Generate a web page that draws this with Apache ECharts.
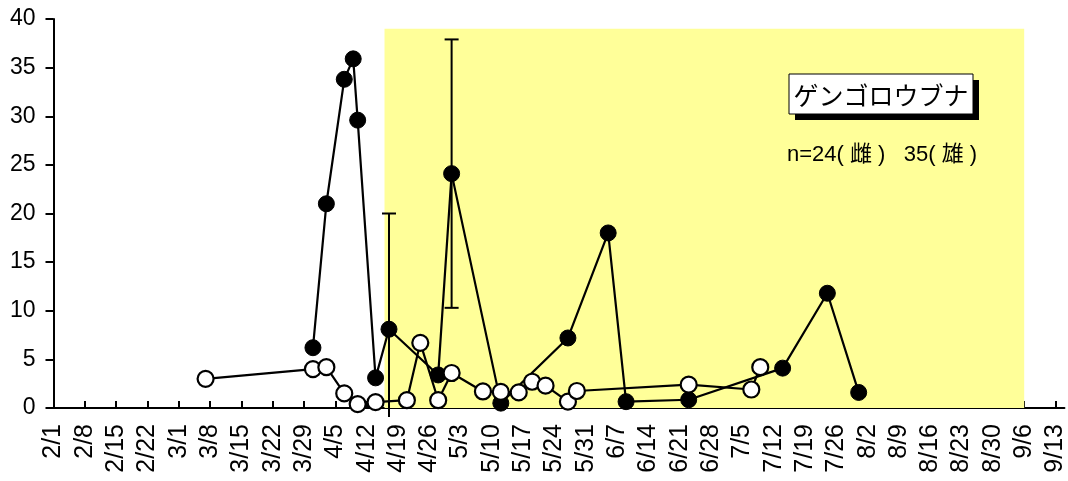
<!DOCTYPE html>
<html>
<head>
<meta charset="utf-8">
<script src="https://cdn.jsdelivr.net/npm/echarts@6/dist/echarts.min.js"></script>
<style>
  html, body { margin: 0; padding: 0; background: #ffffff; }
  #chart { width: 1068px; height: 481px; }
</style>
</head>
<body>
<div id="chart"></div>
<script>
// Weekly tick labels along the season axis (non-leap year, starting 2/1)
const weekLabels = ['2/1','2/8','2/15','2/22','3/1','3/8','3/15','3/22','3/29','4/5','4/12','4/19','4/26',
  '5/3','5/10','5/17','5/24','5/31','6/7','6/14','6/21','6/28','7/5','7/12','7/19','7/26',
  '8/2','8/9','8/16','8/23','8/30','9/6','9/13'];

// Filled-circle series
const filledDates  = ['3/31','4/3','4/7','4/9','4/10','4/14','4/17','4/28','5/1','5/12','5/27','6/5','6/9','6/23','7/14','7/24','7/31'];
const filledValues = [6.2, 21.0, 33.8, 35.9, 29.6, 3.1, 8.1, 3.4, 24.1, 0.5, 7.2, 18.0, 0.65, 0.85, 4.1, 11.8, 1.6];

// Open-circle series
const openDates  = ['3/7','3/31','4/3','4/7','4/10','4/14','4/21','4/24','4/28','5/1','5/8','5/12','5/16','5/19','5/22','5/27','5/29','6/23','7/7','7/9'];
const openValues = [3.0, 4.0, 4.2, 1.5, 0.4, 0.6, 0.8, 6.7, 0.8, 3.6, 1.7, 1.65, 1.6, 2.7, 2.3, 0.65, 1.75, 2.4, 1.9, 4.2];

// Error bars on the filled series
const errDates = ['4/17','5/1'];
const errLow   = [-3.8, 10.3];
const errHigh  = [20.0, 37.9];

// Shaded period
const shadeStart = '4/16';
const shadeEnd   = '9/6';
const shadeTop   = 39;

const titleText = 'ゲンゴロウブナ';
const noteText  = 'n=24( 雌 )   35( 雄 )';

// Day offsets from 2/1
const monthStart = {2: 0, 3: 28, 4: 59, 5: 89, 6: 120, 7: 150, 8: 181, 9: 212};
function dayOf(md) {
  const [m, d] = md.split('/').map(Number);
  return monthStart[m] + d - 1;
}
const weekTicks = weekLabels.map(dayOf);

const filledData = filledDates.map((d, i) => [dayOf(d), filledValues[i]]);
const openData = openDates.map((d, i) => [dayOf(d), openValues[i]]);
const errData = errDates.map((d, i) => [dayOf(d), errLow[i], errHigh[i]]);

const FONT = '"Liberation Sans", Arial, sans-serif';

const chart = echarts.init(document.getElementById('chart'), null, { renderer: 'canvas' });

chart.setOption({
  animation: false,
  backgroundColor: '#ffffff',
  grid: { left: 53.5, right: 3, top: 19, bottom: 73, containLabel: false },
  xAxis: {
    type: 'value',
    min: 0,
    max: 226,
    splitLine: { show: false },
    axisLine: { show: true, onZero: false, lineStyle: { color: '#000', width: 2 } },
    axisTick: { show: true, inside: true, length: 7, customValues: weekTicks, lineStyle: { color: '#000', width: 2 } },
    axisLabel: {
      show: true,
      customValues: weekTicks,
      rotate: 90,
      margin: 16,
      color: '#000',
      fontFamily: FONT,
      fontSize: 25,
      formatter: v => {
        const i = weekTicks.indexOf(Math.round(v));
        return i >= 0 ? weekLabels[i] : '';
      }
    }
  },
  yAxis: {
    type: 'value',
    min: 0,
    max: 40,
    interval: 5,
    splitLine: { show: false },
    axisLine: { show: true, lineStyle: { color: '#000', width: 2 } },
    axisTick: { show: true, inside: false, length: 8, lineStyle: { color: '#000', width: 2 } },
    axisLabel: { color: '#000', fontFamily: FONT, fontSize: 23, margin: 18 }
  },
  series: [
    {
      type: 'line',
      data: [],
      z: 0,
      silent: true,
      markArea: {
        silent: true,
        itemStyle: { color: '#FFFF99', borderWidth: 0 },
        data: [[{ xAxis: dayOf(shadeStart), yAxis: 0 }, { xAxis: dayOf(shadeEnd), yAxis: shadeTop }]]
      }
    },
    {
      type: 'custom',
      z: 3,
      clip: false,
      data: errData,
      renderItem: (params, api) => {
        const x = api.value(0);
        const pTop = api.coord([x, api.value(2)]);
        const pBot = api.coord([x, api.value(1)]);
        // the plot frame reaches a few pixels under the x axis; bars are cut there
        const limit = params.coordSys.y + params.coordSys.height + 9;
        let bottom = pBot[1];
        const cut = bottom > limit;
        if (cut) bottom = limit;
        const cx = pTop[0];
        const half = 7;
        const style = { stroke: '#000', lineWidth: 2 };
        const children = [
          { type: 'line', shape: { x1: cx, y1: pTop[1], x2: cx, y2: bottom }, style },
          { type: 'line', shape: { x1: cx - half, y1: pTop[1], x2: cx + half, y2: pTop[1] }, style }
        ];
        if (!cut) {
          children.push({ type: 'line', shape: { x1: cx - half, y1: bottom, x2: cx + half, y2: bottom }, style });
        }
        return { type: 'group', children };
      }
    },
    {
      type: 'line',
      z: 4,
      data: filledData,
      symbol: 'circle',
      symbolSize: 16,
      showAllSymbol: true,
      lineStyle: { color: '#000', width: 2.2 },
      itemStyle: { color: '#000', borderColor: '#000', borderWidth: 1 }
    },
    {
      type: 'line',
      z: 5,
      data: openData,
      symbol: 'circle',
      symbolSize: 16,
      showAllSymbol: true,
      lineStyle: { color: '#000', width: 2.2 },
      itemStyle: { color: '#fff', borderColor: '#000', borderWidth: 2.2 }
    }
  ],
  graphic: [
    {
      type: 'rect',
      z: 10,
      shape: { x: 795, y: 80, width: 184, height: 40 },
      style: { fill: '#000' }
    },
    {
      type: 'rect',
      z: 11,
      shape: { x: 789, y: 74, width: 184, height: 40 },
      style: { fill: '#fff', stroke: '#000', lineWidth: 1 }
    },
    {
      type: 'text',
      z: 12,
      x: 881,
      y: 95,
      style: {
        text: titleText,
        font: '25px "Noto Sans CJK JP", sans-serif',
        fill: '#000',
        align: 'center',
        verticalAlign: 'middle'
      }
    },
    {
      type: 'text',
      z: 12,
      x: 787,
      y: 155,
      style: {
        text: noteText,
        font: '22px "Liberation Sans", "Noto Sans CJK JP", sans-serif',
        fill: '#000',
        align: 'left',
        verticalAlign: 'middle'
      }
    }
  ]
});
</script>
</body>
</html>
